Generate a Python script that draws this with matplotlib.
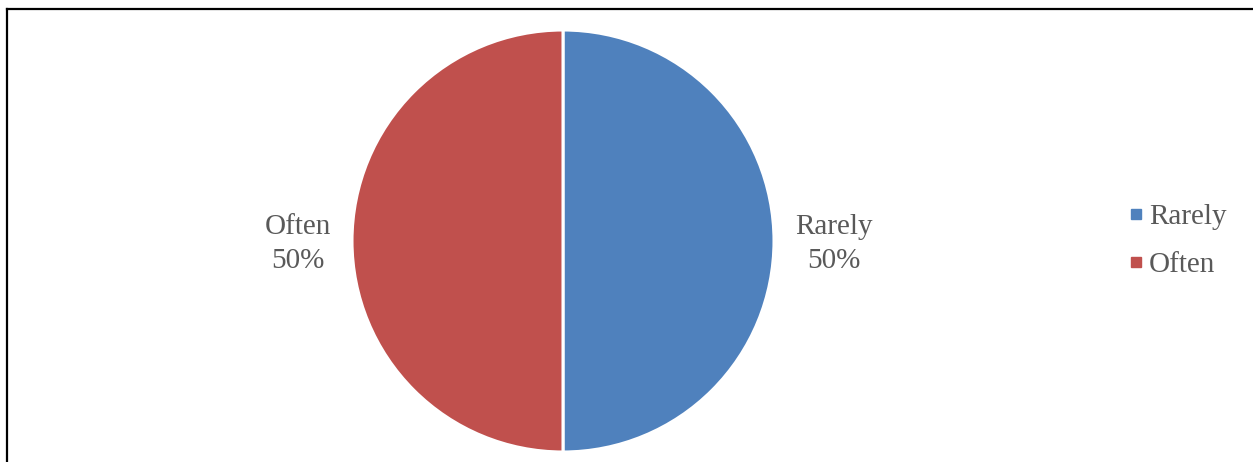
import matplotlib.pyplot as plt
from matplotlib.lines import Line2D

categories = ["Rarely", "Often"]
shares = [50, 50]
colors = ["#4F81BD", "#C0504D"]

W, H = 1253, 462
fig = plt.figure(figsize=(W / 100, H / 100), dpi=100)

# pie centre (563, 241) px, radius 211 px
cx, cy, R = 563, H - 241, 211
ax = fig.add_axes([(cx - R) / W, (cy - R) / H, 2 * R / W, 2 * R / H])

labels = [f"{c}\n{v}%" for c, v in zip(categories, shares)]
wedges, texts = ax.pie(shares, labels=labels, colors=colors, startangle=90,
                       counterclock=False, labeldistance=1.10,
                       wedgeprops=dict(edgecolor="white", linewidth=2.2),
                       textprops=dict(fontsize=21, color="#595959",
                                      family="Liberation Serif",
                                      linespacing=1.4))
for t in texts:
    t.set_va("center")
    t.set_multialignment("center")
    x, y = t.get_position()
    t.set_position((x, y - 0.015))
ax.set_xlim(-1, 1)
ax.set_ylim(-1, 1)
ax.set_aspect("equal")
ax.axis("off")

handles = [Line2D([], [], marker="s", linestyle="none", markersize=7.5,
                  markerfacecolor=c, markeredgecolor=c) for c in colors]
leg = fig.legend(handles, categories, loc="center left",
                 bbox_to_anchor=(1095 / W, 1 - 241 / H), frameon=False,
                 handletextpad=-0.05, labelspacing=0.75, handlelength=1.0,
                 prop=dict(family="Liberation Serif", size=21))
for t in leg.get_texts():
    t.set_color("#595959")

# frame lines (top and left)
fig.add_artist(Line2D([6.5 / W, 1252 / W], [1 - 8.5 / H, 1 - 8.5 / H],
                      transform=fig.transFigure, color="black", linewidth=1.6))
fig.add_artist(Line2D([6.5 / W, 6.5 / W], [0, 1 - 8.5 / H],
                      transform=fig.transFigure, color="black", linewidth=1.6))

fig.savefig("out.png", dpi=100)
